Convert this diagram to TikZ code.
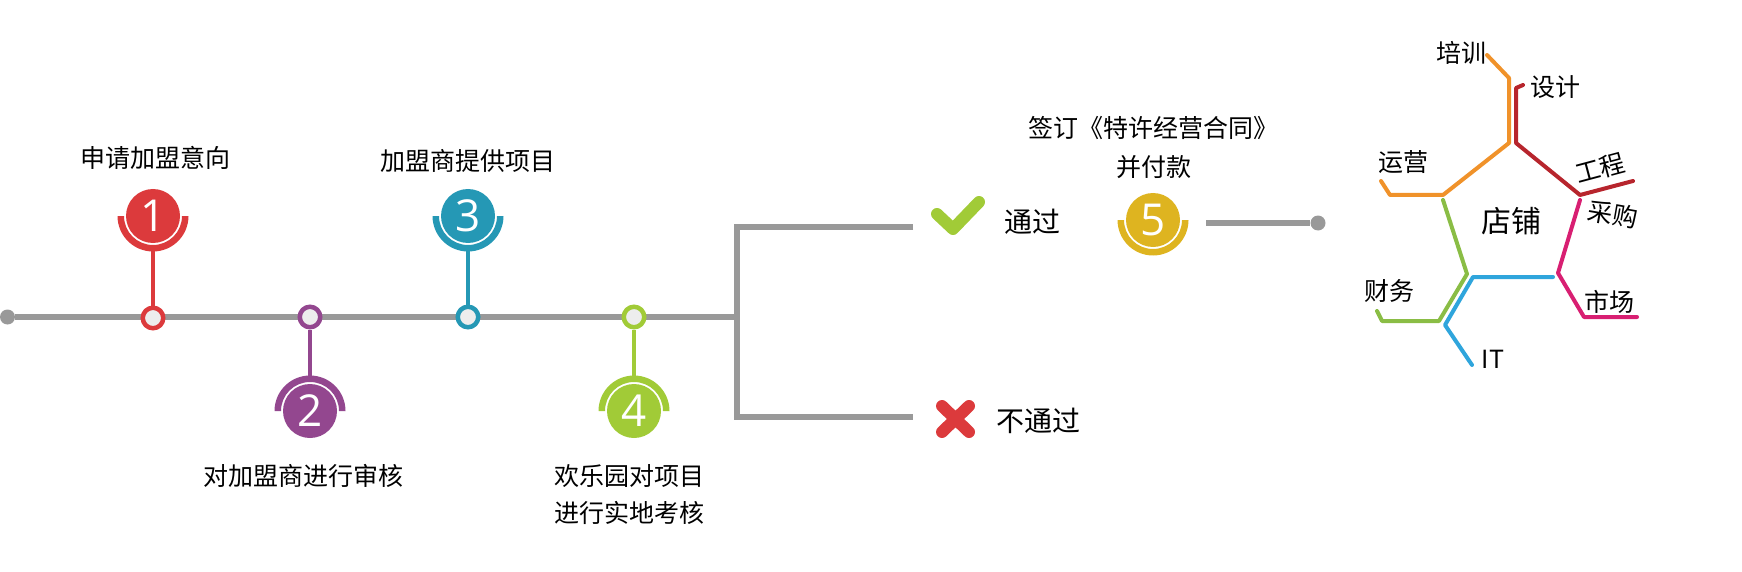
\documentclass[tikz,border=0pt]{standalone}
\usepackage{fontspec}
\setmainfont{Noto Sans CJK SC}
\newfontfamily\digitfont{Open Sans}
\usetikzlibrary{positioning}
\definecolor{stepred}{HTML}{DC3A3C}
\definecolor{steppurple}{HTML}{93478F}
\definecolor{stepteal}{HTML}{2598B5}
\definecolor{stepgreen}{HTML}{A1CB37}
\definecolor{stepyellow}{HTML}{DEB420}
\definecolor{railgrey}{HTML}{999999}
\definecolor{shoporange}{HTML}{F0922A}
\definecolor{shopred}{HTML}{B7252D}
\definecolor{shoppink}{HTML}{D81F72}
\definecolor{shopgreen}{HTML}{8ABD45}
\definecolor{shopblue}{HTML}{2FA5DC}
\tikzset{
  rail/.style={draw=railgrey,line width=6.5pt},
  raildot/.style={circle,fill=railgrey,inner sep=0pt,minimum size=15pt},
  stem/.style={line width=4pt},
  stopmark/.style={circle,draw=#1,fill=black!7,line width=4.5pt,inner sep=0pt,minimum size=20.5pt},
  badge/.style={circle,fill=#1,text=white,inner sep=0pt,minimum size=54pt,outer sep=6pt,
                font=\digitfont\fontsize{44}{44}\selectfont},
  caption/.style={font=\fontsize{25}{30}\selectfont,text=black,inner sep=0pt},
  branch/.style={line width=4pt,line join=round,line cap=round},
}
\newcommand{\badgearc}[3]{% node, colour, direction
  \fill[#2] (#1.center) ++(-35.5,0) arc[start angle=180,end angle=#3,radius=35.5]
    -- ++(-6.5,0) arc[start angle=#3,end angle=180,radius=29] -- cycle;}
\begin{document}
\begin{tikzpicture}[x=1pt,y=-1pt]
\useasboundingbox (0,0) rectangle (1742,572);
% la ligne principale
\node[raildot] (start) at (7.5,317) {};
\coordinate (fork) at (737,317);
\draw[rail] (start) -- (fork);

% les etapes
\foreach \name/\px/\py/\qy/\col/\dir/\num in {%
    one/153/318/216/stepred/0/1,%
    two/310/317/411/steppurple/360/2,%
    three/468/317/216/stepteal/0/3,%
    four/634/317/411/stepgreen/360/4}
{
  \node[badge=\col] (b\name) at (\px,\qy) {\num};
  \node[stopmark=\col] (m\name) at (\px,\py) {};
  \draw[stem,draw=\col] (b\name) -- (m\name);
  \badgearc{b\name}{\col}{\dir}
}

% les textes
\node[caption] (tone) at (155,158) {申请加盟意向};
\node[caption] (ttwo) at (303,476) {对加盟商进行审核};
\node[caption] (tthree) at (468,161) {加盟商提供项目};
\node[caption] (tfoura) at (629,476) {欢乐园对项目};
\node[caption] (tfourb) at (629,513) {进行实地考核};

% la fourche
\coordinate (forka) at (737,227);
\coordinate (forkb) at (737,417);
\coordinate (passend) at (913,227);
\coordinate (failend) at (913,417);
\draw[rail,line width=5.5pt] (passend) -- (forka) -- (forkb) -- (failend);

\coordinate (cka) at (937,214);
\coordinate (ckb) at (953,229);
\coordinate (ckc) at (979,202);
\draw[draw=stepgreen,line width=12pt,line cap=round,line join=round] (cka) -- (ckb) -- (ckc);
\coordinate (cxa) at (942,406);
\coordinate (cxb) at (969,432);
\coordinate (cxc) at (969,406);
\coordinate (cxd) at (942,432);
\draw[draw=stepred,line width=12pt,line cap=round] (cxa) -- (cxb) (cxc) -- (cxd);
\node[caption,font=\fontsize{28}{30}\selectfont] (tpass) at (1032,222) {通过};
\node[caption,font=\fontsize{28}{30}\selectfont] (tfail) at (1038,421) {不通过};

% la cinquieme etape
\node[badge=stepyellow] (bfive) at (1153,220) {5};
\badgearc{bfive}{stepyellow}{0}
\node[caption] (tfivea) at (1153,128) {签订《特许经营合同》};
\node[caption] (tfiveb) at (1154,167) {并付款};
\coordinate (lineend) at (1206,223);
\node[raildot] (enddot) at (1318,223) {};
\draw[rail] (lineend) -- (enddot);

% le magasin
\draw[branch,draw=shoporange] (1487,55) -- (1509,78) -- (1509,143) -- (1443,195) -- (1390,195) -- (1381,181);
\draw[branch,draw=shopred] (1523,85) -- (1516,88) -- (1516,143) -- (1580,195) -- (1633,181);
\draw[branch,draw=shopgreen] (1443,200) -- (1467,274) -- (1439,321) -- (1382,321) -- (1377,311);
\draw[branch,draw=shopblue] (1553,277) -- (1473,277) -- (1445,325) -- (1472,365);
\draw[branch,draw=shoppink] (1580,200) -- (1558,273) -- (1584,317) -- (1637,317);

\node[caption,font=\fontsize{30}{30}\selectfont] (shop) at (1511,221) {店铺};
\node[caption] (ltrain) at (1461,53) {培训};
\node[caption] (ldesign) at (1555,87) {设计};
\node[caption] (lops) at (1403,162) {运营};
\node[caption,rotate=15] (lwork) at (1600,168) {工程};
\node[caption,rotate=-10] (lbuy) at (1613,214) {采购};
\node[caption] (lfin) at (1389,291) {财务};
\node[caption] (lmkt) at (1609,302) {市场};
\node[caption] (lit) at (1493,359) {IT};
\end{tikzpicture}
\end{document}
